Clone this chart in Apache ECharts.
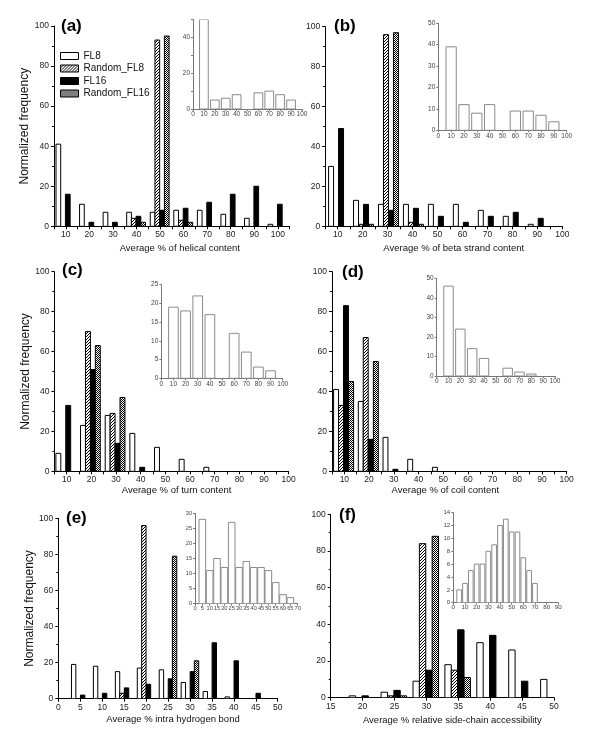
<!DOCTYPE html>
<html>
<head>
<meta charset="utf-8">
<script src="https://cdn.jsdelivr.net/npm/echarts@6/dist/echarts.min.js"></script>
<style>html,body{margin:0;padding:0;background:#fff}#c{width:600px;height:743px}</style>
</head>
<body>
<div id="c"></div>
<script>
// ---------- DATA ----------
const seriesNames = ['FL8', 'Random_FL8', 'FL16', 'Random_FL16'];

const binsA = [10, 20, 30, 40, 50, 60, 70, 80, 90, 100];
const fl8A = [41, 11, 7, 7, 7, 8, 8, 6, 4, 1];
const rfl8A = [0, 0, 0, 4, 93, 3, 0, 0, 0, 0];
const fl16A = [16, 2, 2, 5, 8, 9, 12, 16, 20, 11];
const rfl16A = [0, 0, 0, 2, 95, 2, 0, 0, 0, 0];

const binsB = [10, 20, 30, 40, 50, 60, 70, 80, 90];
const fl8B = [30, 13, 11, 11, 11, 11, 8, 5, 1];
const rfl8B = [0, 1, 96, 2, 0, 0, 0, 0, 0];
const fl16B = [49, 11, 8, 9, 5, 2, 5, 7, 4];
const rfl16B = [0, 1, 97, 1, 0, 0, 0, 0, 0];

const binsC = [10, 20, 30, 40, 50, 60, 70];
const fl8C = [9, 23, 28, 19, 12, 6, 2];
const rfl8C = [0, 70, 29, 0, 0, 0, 0];
const fl16C = [33, 51, 14, 2, 0, 0, 0];
const rfl16C = [0, 63, 37, 0, 0, 0, 0];

const binsD = [10, 20, 30, 40, 50];
const fl8D = [41, 35, 17, 6, 2];
const rfl8D = [33, 67, 0, 0, 0];
const fl16D = [83, 16, 1, 0, 0];
const rfl16D = [45, 55, 0, 0, 0];

const binsE = [5, 10, 15, 20, 25, 30, 35, 40, 45];
const fl8E = [19, 18, 15, 17, 16, 9, 4, 1, 0];
const rfl8E = [0, 0, 3, 96, 0, 0, 0, 0, 0];
const fl16E = [2, 3, 6, 8, 11, 15, 31, 21, 3];
const rfl16E = [0, 0, 0, 0, 79, 21, 0, 0, 0];

const binsF = [20, 25, 30, 35, 40, 45, 50];
const fl8F = [1, 3, 9, 18, 30, 26, 10];
const rfl8F = [0, 1, 84, 15, 0, 0, 0];
const fl16F = [1, 4, 15, 37, 34, 9, 0];
const rfl16F = [0, 1, 88, 11, 0, 0, 0];

// insets (FL8 only)
const insetBinsA = [10, 20, 30, 40, 50, 60, 70, 80, 90, 100];
const insetA = [50, 5, 6, 8, 0, 9, 10, 8, 5, 0];
const insetBinsB = [10, 20, 30, 40, 50, 60, 70, 80, 90];
const insetB = [39, 12, 8, 12, 0, 9, 9, 7, 4];
const insetBinsC = [10, 20, 30, 40, 50, 60, 70, 80, 90];
const insetC = [19, 18, 22, 17, 0, 12, 7, 3, 2];
const insetBinsD = [10, 20, 30, 40, 50, 60, 70, 80, 90];
const insetD = [46, 24, 14, 9, 0, 4, 2, 1, 0];
const insetBinsE = [5, 10, 15, 20, 25, 30, 35, 40, 45, 50, 55, 60, 65];
const insetE = [28, 11, 15, 12, 27, 12, 14, 12, 12, 11, 7, 3, 2];
const insetBinsF = [5, 10, 15, 20, 25, 30, 35, 40, 45, 50, 55, 60, 65, 70];
const insetF = [2, 3, 5, 6, 6, 8, 9, 12, 13, 11, 11, 7, 5, 3];

const panelLabels = ['(a)', '(b)', '(c)', '(d)', '(e)', '(f)'];
const xNames = ['Average % of helical content', 'Average % of beta strand content',
  'Average % of turn content', 'Average % of coil content',
  'Average % intra hydrogen bond', 'Average % relative side-chain accessibility'];
const yName = 'Normalized frequency';

// ---------- STYLES ----------
const FONT = '"Liberation Sans", Arial, Helvetica, sans-serif';
function makePattern(rows) {
  const c = document.createElement('canvas');
  c.width = rows[0].length; c.height = rows.length;
  const ctx = c.getContext('2d');
  ctx.fillStyle = '#fff'; ctx.fillRect(0, 0, c.width, c.height);
  ctx.fillStyle = '#000';
  rows.forEach((r, y) => { for (let x = 0; x < r.length; x++) if (r[x] === 'x') ctx.fillRect(x, y, 1, 1); });
  return { image: c, repeat: 'repeat' };
}
const hatch = makePattern(['..x', '.x.', 'x..']);
const cross = makePattern(['x.', '.x']);
const fills = ['#ffffff', hatch, '#000000', cross];

const mainData = [
  [binsA, [fl8A, rfl8A, fl16A, rfl16A]],
  [binsB, [fl8B, rfl8B, fl16B, rfl16B]],
  [binsC, [fl8C, rfl8C, fl16C, rfl16C]],
  [binsD, [fl8D, rfl8D, fl16D, rfl16D]],
  [binsE, [fl8E, rfl8E, fl16E, rfl16E]],
  [binsF, [fl8F, rfl8F, fl16F, rfl16F]]
];
const insetData = [
  [insetBinsA, insetA], [insetBinsB, insetB], [insetBinsC, insetC],
  [insetBinsD, insetD], [insetBinsE, insetE], [insetBinsF, insetF]
];

const layout = [
  { grid: { left: 54, top: 26, width: 235.6, height: 200.3 }, xmin: 5, xmax: 105, xint: 5, every: 10, nameGap: 17, shift: 8, yGap: 19,
    offs: [-3.15, -1.15, 0.85, 2.85], bw: 2, title: { left: 61, top: 18 },
    inset: { grid: { left: 193, top: 19.5, width: 109, height: 89.5 }, xmax: 100, xint: 10, xevery: 10, ymax: 50, yint: 10, yevery: 20, bw: 8, fs: 6.5 } },
  { grid: { left: 325.2, top: 26.7, width: 237.1, height: 199.6 }, xmin: 5, xmax: 100, xint: 5, every: 10, nameGap: 17, shift: 10,
    offs: [-2.65, -0.65, 1.35, 3.35], bw: 2, title: { left: 334, top: 18 },
    inset: { grid: { left: 438.3, top: 23.3, width: 128.4, height: 107 }, xmax: 100, xint: 10, xevery: 10, ymax: 50, yint: 10, yevery: 10, bw: 8, fs: 6.5 } },
  { grid: { left: 54.4, top: 271.7, width: 234.3, height: 199.6 }, xmin: 5, xmax: 100, xint: 5, every: 10, nameGap: 12, shift: 5, yGap: 19,
    offs: [-3.4, -1.4, 0.6, 2.6], bw: 2, title: { left: 62, top: 262 },
    inset: { grid: { left: 161.3, top: 284.7, width: 121.4, height: 93.6 }, xmax: 100, xint: 10, xevery: 10, ymax: 25, yint: 5, yevery: 5, bw: 8, fs: 6.5 } },
  { grid: { left: 332, top: 271.7, width: 234.7, height: 199.6 }, xmin: 5, xmax: 100, xint: 5, every: 10, nameGap: 12, shift: -4,
    offs: [-3.35, -1.35, 0.65, 2.75], bw: 2, title: { left: 342, top: 264 },
    inset: { grid: { left: 436.7, top: 278.3, width: 118.3, height: 97.7 }, xmax: 100, xint: 10, xevery: 10, ymax: 50, yint: 10, yevery: 10, bw: 8, fs: 6.5 } },
  { grid: { left: 58.3, top: 518.3, width: 219.4, height: 180.4 }, xmin: 0, xmax: 50, xint: 5, every: 5, nameGap: 16, shift: 5, yGap: 21,
    offs: [-1.5, -0.5, 0.55, 1.5], bw: 1, title: { left: 66, top: 510 },
    inset: { grid: { left: 195, top: 513.3, width: 102.7, height: 90.4 }, xmax: 70, xint: 5, xevery: 5, ymax: 30, yint: 5, yevery: 5, bw: 4.5, fs: 5.6 } },
  { grid: { left: 330.7, top: 514.3, width: 223.3, height: 183.4 }, xmin: 15, xmax: 50, xint: 5, every: 5, nameGap: 18, shift: 10,
    offs: [-1.6, -0.6, 0.4, 1.4], bw: 1, title: { left: 339, top: 507 },
    inset: { grid: { left: 453.3, top: 512.7, width: 105, height: 90 }, xmax: 90, xint: 10, xevery: 10, ymax: 14, yint: 2, yevery: 2, bw: 4, fs: 6.2 } }
];

function barRender(width, offset, fill, stroke) {
  return function (params, api) {
    const y = api.value(1);
    if (!y) return null;
    const x = api.value(0) + offset;
    const p0 = api.coord([x - width / 2, y]);
    const p1 = api.coord([x + width / 2, 0]);
    return {
      type: 'rect',
      shape: { x: p0[0], y: p0[1], width: p1[0] - p0[0], height: p1[1] - p0[1] },
      style: { fill: fill, stroke: stroke, lineWidth: 1 }
    };
  };
}

const grids = [], xAxes = [], yAxes = [], series = [], titles = [];
layout.forEach((L, i) => {
  const gi = grids.length;
  grids.push(Object.assign({ containLabel: false }, L.grid));
  const pad = L.shift >= 0 ? [0, 0, 0, 2 * L.shift] : [0, -2 * L.shift, 0, 0];
  xAxes.push({
    type: 'value', gridIndex: gi, min: L.xmin, max: L.xmax, interval: L.xint,
    name: xNames[i], nameLocation: 'middle', nameGap: L.nameGap,
    nameTextStyle: { fontSize: 9.5, color: '#111', fontFamily: FONT, padding: pad },
    axisLine: { show: true, onZero: false, lineStyle: { color: '#000', width: 1 } },
    axisTick: { show: true, inside: false, length: 3, lineStyle: { color: '#000' } },
    axisLabel: { fontSize: 8.5, color: '#222', fontFamily: FONT, margin: 4,
      formatter: v => (v % L.every === 0 && v !== L.xmin || (L.xmin === 0 && v === 0) || (L.every === 5 && v === L.xmin)) && v <= 100 && !(L.xmax === 105 && v === 105) ? String(v) : '' },
    splitLine: { show: false }
  });
  yAxes.push({
    type: 'value', gridIndex: gi, min: 0, max: 100, interval: 20,
    name: L.yGap ? yName : '', nameLocation: 'middle', nameGap: L.yGap || 0,
    nameTextStyle: { fontSize: 12, color: '#111', fontFamily: FONT },
    axisLine: { show: true, lineStyle: { color: '#000', width: 1 } },
    axisTick: { show: true, inside: false, length: 3, lineStyle: { color: '#000' } },
    minorTick: { show: true, splitNumber: 2, length: 2, lineStyle: { color: '#000' } },
    axisLabel: { fontSize: 8.5, color: '#222', fontFamily: FONT, margin: 5 },
    splitLine: { show: false }
  });
  const [bins, vals] = mainData[i];
  vals.forEach((arr, k) => {
    series.push({
      type: 'custom', name: seriesNames[k], xAxisIndex: gi, yAxisIndex: gi, clip: true, silent: true,
      itemStyle: { color: fills[k], borderColor: '#000', borderWidth: 1 },
      renderItem: barRender(L.bw, L.offs[k], fills[k], '#000'),
      encode: { x: 0, y: 1 },
      data: bins.map((b, j) => [b, arr[j]])
    });
  });
  // inset
  const I = L.inset;
  const ii = grids.length;
  grids.push(Object.assign({ containLabel: false }, I.grid));
  xAxes.push({
    type: 'value', gridIndex: ii, min: 0, max: I.xmax, interval: I.xint,
    axisLine: { show: true, onZero: false, lineStyle: { color: '#777', width: 1 } },
    axisTick: { show: true, length: 2, lineStyle: { color: '#777' } },
    axisLabel: { fontSize: I.fs, color: '#444', fontFamily: FONT, margin: 2,
      formatter: v => v % I.xevery === 0 ? String(v) : '' },
    splitLine: { show: false }
  });
  yAxes.push({
    type: 'value', gridIndex: ii, min: 0, max: I.ymax, interval: I.yint,
    axisLine: { show: true, lineStyle: { color: '#777', width: 1 } },
    axisTick: { show: true, length: 2, lineStyle: { color: '#777' } },
    axisLabel: { fontSize: I.fs, color: '#444', fontFamily: FONT, margin: 3,
      formatter: v => (v % I.yevery === 0 && !(I.yevery === 20 && v === 50)) ? String(v) : '' },
    splitLine: { show: false }
  });
  const [ib, iv] = insetData[i];
  series.push({
    type: 'custom', name: 'inset' + i, xAxisIndex: ii, yAxisIndex: ii, clip: true, silent: true,
    itemStyle: { color: '#fff', borderColor: '#888' },
    renderItem: barRender(I.bw, 0, '#ffffff', '#8a8a8a'),
    encode: { x: 0, y: 1 },
    data: ib.map((b, j) => [b, iv[j]])
  });
  titles.push({ text: panelLabels[i], left: L.title.left, top: L.title.top, padding: 0,
    textStyle: { fontSize: 17, fontWeight: 'bold', color: '#000', fontFamily: FONT } });
});

const option = {
  animation: false,
  backgroundColor: '#ffffff',
  title: titles,
  legend: {
    orient: 'vertical', left: 60, top: 51, padding: 0, itemWidth: 18, itemHeight: 7, itemGap: 2.5,
    selectedMode: false, icon: 'rect',
    textStyle: { fontSize: 10, color: '#111', fontFamily: FONT },
    data: seriesNames.map((n, k) => ({ name: n, icon: 'rect', itemStyle: { color: fills[k], borderColor: '#000', borderWidth: 1 } }))
  },
  grid: grids, xAxis: xAxes, yAxis: yAxes, series: series
};
const chart = echarts.init(document.getElementById('c'), null, { renderer: 'canvas' });
chart.setOption(option);
</script>
</body>
</html>
